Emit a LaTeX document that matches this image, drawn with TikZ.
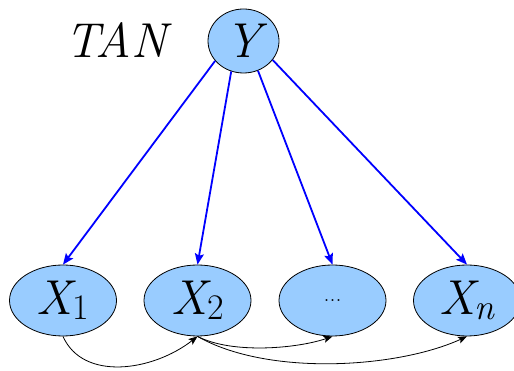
\documentclass[tikz,border=0pt]{standalone}
\usetikzlibrary{shapes.geometric,arrows.meta}
\definecolor{nodefill}{HTML}{99CCFF}
\tikzset{
  var/.style={ellipse,draw=black,line width=0.8pt,fill=nodefill,inner sep=0pt,minimum width=107pt,minimum height=71pt},
  blue arrow/.style={draw=blue,line width=1.8pt,-{Stealth[length=11pt,width=9pt,inset=2pt]}},
  dep arrow/.style={draw=black,line width=0.8pt,-{Stealth[length=9pt,width=7pt,inset=2pt]}},
}
\newcommand{\bigit}{\fontsize{49}{52}\selectfont\itshape}
\newcommand{\sbs}[1]{\raisebox{-5pt}{\fontsize{36}{40}\selectfont #1}}
\begin{document}
\begin{tikzpicture}[x=1pt,y=-1pt]
\useasboundingbox (0,0) rectangle (514,371);
\node (tan) at (116,40) {\bigit TAN};
\node[var,minimum width=71pt,minimum height=64pt] (Y) at (243.5,41) {\bigit Y};
\node[var] (X1) at (63,300.5) {\bigit X\sbs{\upshape 1}};
\node[var] (X2) at (197.5,300.5) {\bigit X\sbs{\upshape 2}};
\node[var] (X3) at (332.5,300.5) {\fontsize{24}{26}\selectfont ...};
\node[var] (Xn) at (467,300.5) {\bigit X\sbs{\itshape n}};
\draw[blue arrow] (Y.215) -- (X1.north);
\draw[blue arrow] (Y.248) -- (X2.north);
\draw[blue arrow] (Y.296) -- (X3.north);
\draw[blue arrow] (Y.327) -- (Xn.north);
\draw[dep arrow] (X1.south) .. controls +(20,45) and +(-45,35) .. (X2.south);
\draw[dep arrow] (X2.south) .. controls +(35,18) and +(-35,12) .. (X3.south);
\draw[dep arrow] (X2.south) .. controls +(70,40) and +(-70,32) .. (Xn.south);
\end{tikzpicture}
\end{document}
